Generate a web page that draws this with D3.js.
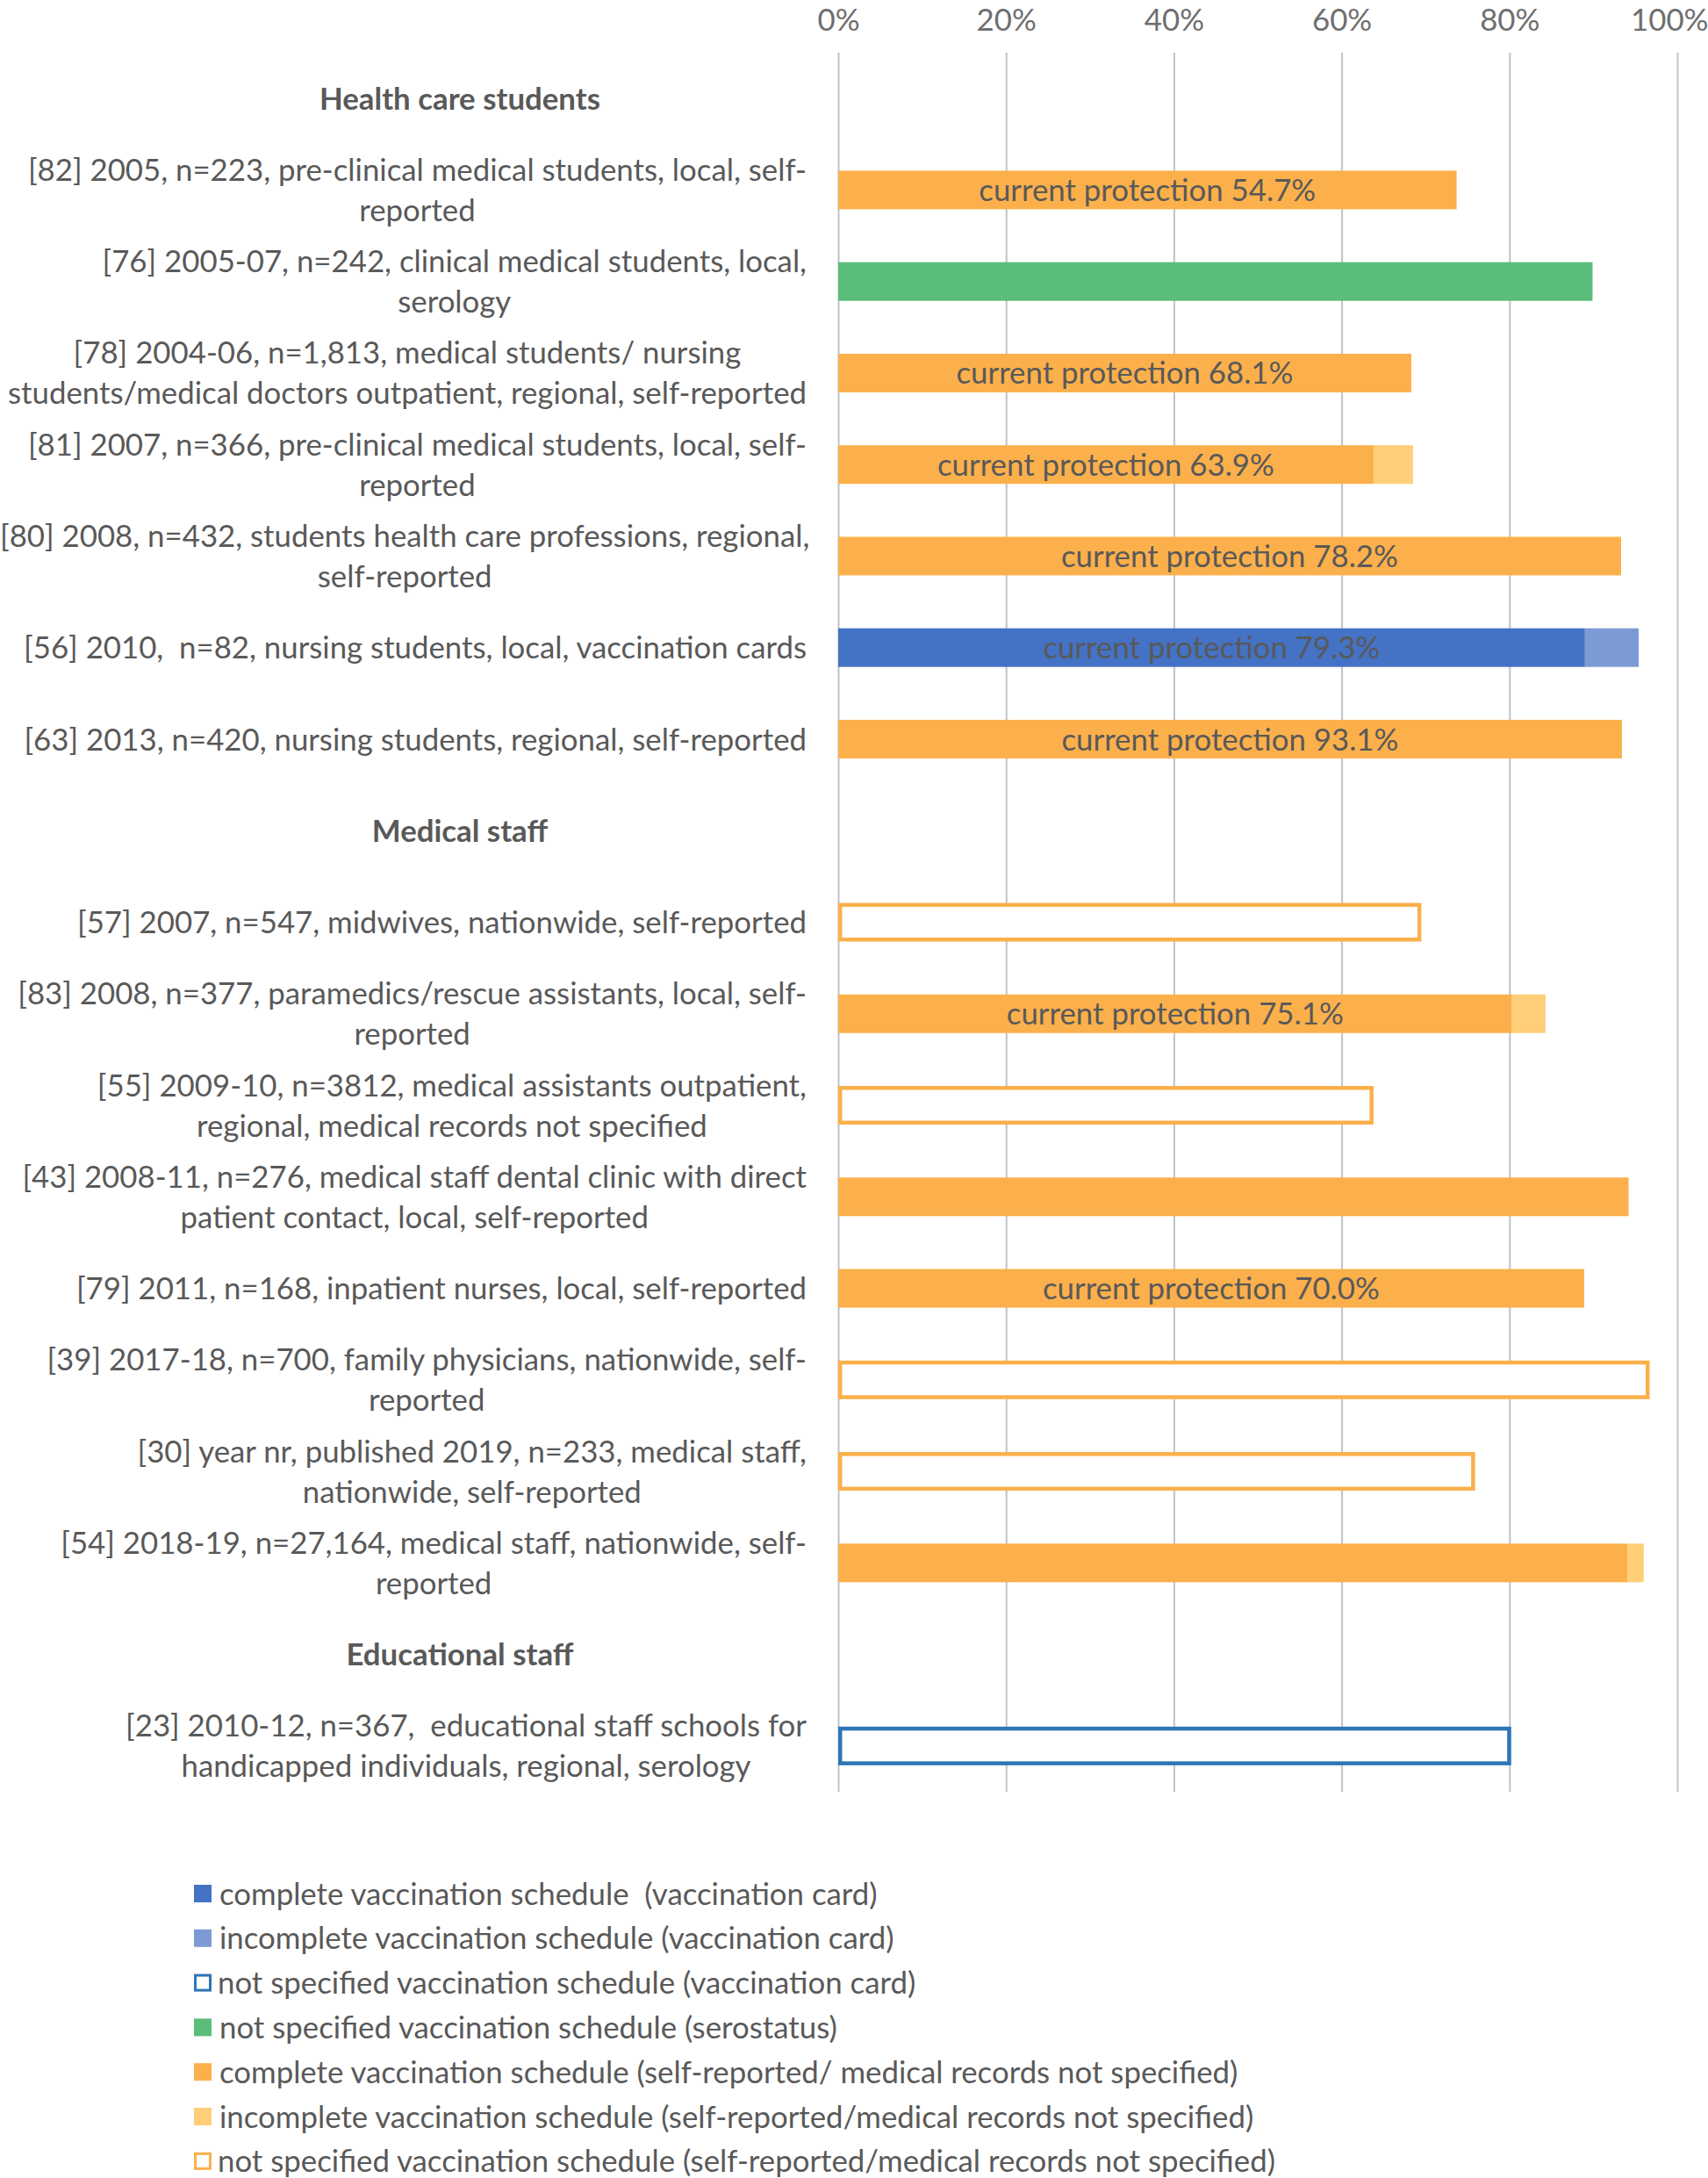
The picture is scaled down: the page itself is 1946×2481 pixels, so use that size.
<!DOCTYPE html>
<html>
<head>
<meta charset="utf-8">
<script src="https://cdn.jsdelivr.net/npm/d3@7"></script>
<style>
  html, body { margin: 0; padding: 0; background: #ffffff; }
  svg { display: block; }
  text { font-family: Lato, "Open Sans", sans-serif; white-space: pre; }
</style>
</head>
<body>
<svg id="chart" width="1946" height="2481"></svg>
<script>
// ---------- data ----------
const rowLabels = [
  ["Health care students"],
  ["[82] 2005, n=223, pre-clinical medical students, local, self-", "reported"],
  ["[76] 2005-07, n=242, clinical medical students, local,", "serology"],
  ["[78] 2004-06, n=1,813, medical students/ nursing", "students/medical doctors outpatient, regional, self-reported"],
  ["[81] 2007, n=366, pre-clinical medical students, local, self-", "reported"],
  ["[80] 2008, n=432, students health care professions, regional,", "self-reported"],
  ["[56] 2010,  n=82, nursing students, local, vaccination cards"],
  ["[63] 2013, n=420, nursing students, regional, self-reported"],
  ["Medical staff"],
  ["[57] 2007, n=547, midwives, nationwide, self-reported"],
  ["[83] 2008, n=377, paramedics/rescue assistants, local, self-", "reported"],
  ["[55] 2009-10, n=3812, medical assistants outpatient,", "regional, medical records not specified"],
  ["[43] 2008-11, n=276, medical staff dental clinic with direct", "patient contact, local, self-reported"],
  ["[79] 2011, n=168, inpatient nurses, local, self-reported"],
  ["[39] 2017-18, n=700, family physicians, nationwide, self-", "reported"],
  ["[30] year nr, published 2019, n=233, medical staff,", "nationwide, self-reported"],
  ["[54] 2018-19, n=27,164, medical staff, nationwide, self-", "reported"],
  ["Educational staff"],
  ["[23] 2010-12, n=367,  educational staff schools for", "handicapped individuals, regional, serology"]
];
const isHeader = [true,false,false,false,false,false,false,false,true,false,false,false,false,false,false,false,false,true,false];
// source of the data: "card" = vaccination card, "sero" = serostatus, "self" = self-reported / medical records
const sourceType = [null,"self","sero","self","self","self","card","self",null,"self","self","self","self","self","self","self","self",null,"card"];
// % with complete vaccination schedule
const completeVals = [null,73.7,null,68.3,63.8,93.3,89.0,93.4,null,null,80.3,null,94.2,88.9,null,null,94.1,null,null];
// additional % with incomplete vaccination schedule (stacked after complete)
const incompleteVals = [null,0,null,0,4.7,0,6.4,0,null,null,4.0,null,0,0,null,null,1.9,null,null];
// % vaccinated, schedule not specified
const notSpecifiedVals = [null,null,89.9,null,null,null,null,null,null,69.5,null,63.8,null,null,96.7,75.9,null,null,80.2];
// current protection labels
const protectionVals = [null,54.7,null,68.1,63.9,78.2,79.3,93.1,null,null,75.1,null,null,70.0,null,null,null,null,null];
const tickValues = [0,20,40,60,80,100];

const legendLabels = [
  "complete vaccination schedule  (vaccination card)",
  "incomplete vaccination schedule (vaccination card)",
  "not specified vaccination schedule (vaccination card)",
  "not specified vaccination schedule (serostatus)",
  "complete vaccination schedule (self-reported/ medical records not specified)",
  "incomplete vaccination schedule (self-reported/medical records not specified)",
  "not specified vaccination schedule (self-reported/medical records not specified)"
];
const legendKeys = ["complete-card","incomplete-card","notspec-card","notspec-sero","complete-self","incomplete-self","notspec-self"];

// ---------- styles ----------
const colors = {
  "complete-card": "#4472C4",
  "incomplete-card": "#7C9BD4",
  "notspec-card": "#2E75B6",
  "notspec-sero": "#5BBD7A",
  "complete-self": "#FBB04B",
  "incomplete-self": "#FFCE78",
  "notspec-self": "#FBB04B"
};
const outlined = {"notspec-card": true, "notspec-self": true};
const textColor = "#595959";
const tickColor = "#6E6E6E";
const gridColor = "#BCC3CA";
const fontSize = 34.8;

const W = 1946, H = 2481;
const svg = d3.select("#chart");
svg.append("rect").attr("width",W).attr("height",H).attr("fill","#fff");

const x = d3.scaleLinear().domain([0,100]).range([955,1911]);
const y = d3.scaleBand().domain(d3.range(rowLabels.length)).range([60,2041])
  .paddingInner(0.578).paddingOuter(0.289);

// grid + top axis
const axis = d3.axisTop(x).tickValues(tickValues).tickFormat(d => d + "%")
  .tickSizeInner(-(2041-60)).tickSizeOuter(0).tickPadding(25);
const ag = svg.append("g").attr("transform","translate(0,60)").call(axis);
ag.select(".domain").remove();
ag.selectAll(".tick line").attr("stroke",gridColor).attr("stroke-width",2);
ag.selectAll(".tick text").attr("fill",tickColor).attr("font-size",fontSize)
  .attr("font-family","Lato, sans-serif");
// keep the last tick label inside the page edge
ag.selectAll(".tick text").filter(d => x(d) + 40 > W)
  .attr("text-anchor","end").attr("x", d => W - x(d));

// bars
const barG = svg.append("g");
const sw = 4.5;
function drawBar(i, x0, x1, key) {
  const y0 = y(i), h = y.bandwidth();
  if (outlined[key]) {
    barG.append("rect")
      .attr("x", x(x0) + sw/2).attr("y", y0 + sw/2)
      .attr("width", Math.max(0, x(x1) - x(x0) - sw)).attr("height", h - sw)
      .attr("fill", "#fff").attr("stroke", colors[key]).attr("stroke-width", sw);
  } else {
    barG.append("rect")
      .attr("x", x(x0)).attr("y", y0)
      .attr("width", x(x1) - x(x0)).attr("height", h)
      .attr("fill", colors[key]);
  }
}
rowLabels.forEach((_, i) => {
  if (isHeader[i]) return;
  const src = sourceType[i];
  if (completeVals[i] != null) {
    drawBar(i, 0, completeVals[i], "complete-" + src);
    if (incompleteVals[i] > 0) {
      drawBar(i, completeVals[i], completeVals[i] + incompleteVals[i], "incomplete-" + src);
    }
  }
  if (notSpecifiedVals[i] != null) {
    drawBar(i, 0, notSpecifiedVals[i], "notspec-" + src);
  }
  if (protectionVals[i] != null) {
    barG.append("text")
      .attr("x", x(completeVals[i] / 2))
      .attr("y", y(i) + y.bandwidth()/2)
      .attr("dy", "0.36em")
      .attr("text-anchor", "middle")
      .attr("font-size", fontSize)
      .attr("fill", textColor)
      .text("current protection " + protectionVals[i].toFixed(1) + "%");
  }
});

// category labels
const labelRight = 919;
const headerCenter = 524;
const lineH = 46;
const labG = svg.append("g");
rowLabels.forEach((lines, i) => {
  const cy = y(i) + y.bandwidth()/2;
  const g = labG.append("g");
  const n = lines.length;
  const texts = lines.map((ln, k) => g.append("text")
    .attr("y", cy + (k - (n-1)/2) * lineH)
    .attr("dy", "0.36em")
    .attr("font-size", fontSize)
    .attr("font-weight", isHeader[i] ? "bold" : "normal")
    .attr("fill", textColor)
    .text(ln));
  if (isHeader[i]) {
    texts.forEach(t => t.attr("text-anchor","middle").attr("x", headerCenter));
  } else {
    const maxW = d3.max(texts, t => t.node().getComputedTextLength());
    texts.forEach(t => t.attr("text-anchor","middle").attr("x", Math.max(labelRight - maxW/2, maxW/2)));
  }
});

// legend
const legG = svg.append("g");
const legX = 221, legY0 = 2157, legStep = 50.8, sq = 20;
legendLabels.forEach((label, k) => {
  const key = legendKeys[k];
  const cy = legY0 + k * legStep;
  if (outlined[key]) {
    legG.append("rect").attr("x", legX + 1.5).attr("y", cy - sq/2 + 1.5)
      .attr("width", sq - 3).attr("height", sq - 3)
      .attr("fill","#fff").attr("stroke", colors[key]).attr("stroke-width",3);
  } else {
    legG.append("rect").attr("x", legX).attr("y", cy - sq/2)
      .attr("width", sq).attr("height", sq).attr("fill", colors[key]);
  }
  legG.append("text").attr("x", outlined[key] ? 248 : 250).attr("y", cy)
    .attr("dy","0.36em").attr("font-size", fontSize).attr("fill", textColor)
    .text(label);
});
</script>
</body>
</html>
